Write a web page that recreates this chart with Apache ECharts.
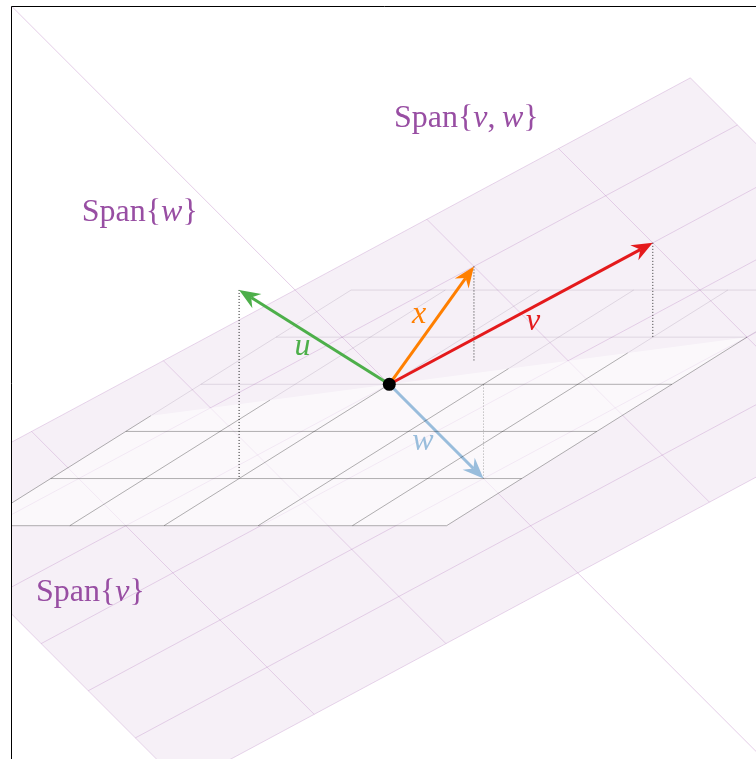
<!DOCTYPE html>
<html><head><meta charset="utf-8">
<script src="https://cdn.jsdelivr.net/npm/echarts@6/dist/echarts.min.js"></script>
<style>html,body{margin:0;padding:0;background:#fff}#main{width:756px;height:759px}</style>
</head><body><div id="main"></div>
<script>
// ---------------- data (3D coordinates) ----------------
const vectorNames = ['w', 'u', 'x', 'v'];
const vecU = [0, 2, 2];
const vecV = [2, -1, 1];
const vecW = [1, 0, -1];
const vecX = [0.5, -0.5, 1];
const planeS = [-1.5, -1, -0.5, 0, 0.5, 1, 1.5];   // grid lines: multiples of v
const planeT = [-1, -0.5, 0, 0.5, 1, 1.5, 2];      // grid lines: multiples of w
const groundX = [-2, -1, 0, 1, 2, 3];
const groundY = [-2, -1, 0, 1, 2, 3];
const spanLineRange = [-6, 6];
const spanLabels = ['Span{v,w}', 'Span{w}', 'Span{v}'];

// ---------------- camera / styles ----------------
const CAM = { ex: [94.2, 0], ey: [-75.1, -47.13], ez: [0, 94.3] };
const ORIGIN_PX = [389.3, 384.3];
const FRAME = { left: 11, top: 6, right: 0, bottom: 0, W: 756, H: 759 };
const COLORS = { u: '#4daf4a', x: '#ff7f00', v: '#e41a1c', w: '#99bddc', purple: '#984ea3' };
const LABEL_OFF = { u: [-11.7, 9], x: [-12.6, -10.6], v: [12, 8], w: [-13.4, 10.5] };
const SPAN_POS = [[394, 119], [81.7, 213], [36, 592.5]];
const FONT = '"Liberation Serif", "DejaVu Serif", serif';

// ---------------- helpers ----------------
const add = (p, q) => p.map((v, i) => v + q[i]);
const mul = (p, k) => p.map(v => v * k);
const dot = (p, q) => p[0] * q[0] + p[1] * q[1] + p[2] * q[2];
const cross = (p, q) => [p[1] * q[2] - p[2] * q[1], p[2] * q[0] - p[0] * q[2], p[0] * q[1] - p[1] * q[0]];
const proj = p => [p[0] * CAM.ex[0] + p[1] * CAM.ey[0] + p[2] * CAM.ez[0],
                   p[0] * CAM.ex[1] + p[1] * CAM.ey[1] + p[2] * CAM.ez[1]];
const lerp = (p, q, k) => p.map((v, i) => v + (q[i] - v) * k);
const normal = cross(vecV, vecW);            // normal of Span{v,w}
const side = p => dot(normal, p);            // >0 : ground above plane (in front)

function splitSeg(p, q) {
  const fp = side(p), fq = side(q);
  if (fp >= 0 && fq >= 0) return { front: [[p, q]], back: [] };
  if (fp <= 0 && fq <= 0) return { front: [], back: [[p, q]] };
  const m = lerp(p, q, fp / (fp - fq));
  return fp > 0 ? { front: [[p, m]], back: [[m, q]] } : { front: [[m, q]], back: [[p, m]] };
}
function clipPoly(poly) {
  const out = [];
  for (let i = 0; i < poly.length; i++) {
    const a = poly[i], b = poly[(i + 1) % poly.length];
    const fa = side(a), fb = side(b);
    if (fa >= 0) out.push(a);
    if ((fa > 0 && fb < 0) || (fa < 0 && fb > 0)) out.push(lerp(a, b, fa / (fa - fb)));
  }
  return out;
}

// ---------------- geometry built from data ----------------
const sMin = planeS[0], sMax = planeS[planeS.length - 1];
const tMin = planeT[0], tMax = planeT[planeT.length - 1];
const P = (s, t) => add(mul(vecV, s), mul(vecW, t));
const planePoly = [P(sMin, tMin), P(sMax, tMin), P(sMax, tMax), P(sMin, tMax)];
const planeLines = [];
planeS.forEach(s => planeLines.push([P(s, tMin), P(s, tMax)]));
planeT.forEach(t => planeLines.push([P(sMin, t), P(sMax, t)]));
// the parts of Span{w} and Span{v} that leave the plane
const spanLines = [
  [mul(vecW, spanLineRange[0]), mul(vecW, tMin)], [mul(vecW, tMax), mul(vecW, spanLineRange[1])],
  [mul(vecV, spanLineRange[0]), mul(vecV, sMin)], [mul(vecV, sMax), mul(vecV, spanLineRange[1])]
];

const gx0 = groundX[0], gx1 = groundX[groundX.length - 1];
const gy0 = groundY[0], gy1 = groundY[groundY.length - 1];
const groundFrontPoly = clipPoly([[gx0, gy0, 0], [gx1, gy0, 0], [gx1, gy1, 0], [gx0, gy1, 0]]);
const groundFront = [], groundBack = [];
groundY.forEach(y => { const r = splitSeg([gx0, y, 0], [gx1, y, 0]); groundFront.push(...r.front); groundBack.push(...r.back); });
groundX.forEach(x => { const r = splitSeg([x, gy0, 0], [x, gy1, 0]); groundFront.push(...r.front); groundBack.push(...r.back); });

const vecs = { u: vecU, v: vecV, w: vecW, x: vecX };
const dropLine = n => [vecs[n], [vecs[n][0], vecs[n][1], 0]];

// ---------------- series factories ----------------
const toSeg = s => { const a = proj(s[0]), b = proj(s[1]); return [a[0], a[1], b[0], b[1]]; };
function segSeries(segs, style, z) {
  return {
    type: 'custom', z, clip: true, silent: true,
    data: segs.map(toSeg), encode: { x: [0, 2], y: [1, 3] },
    renderItem: (params, api) => {
      const a = api.coord([api.value(0), api.value(1)]);
      const b = api.coord([api.value(2), api.value(3)]);
      return { type: 'line', shape: { x1: a[0], y1: a[1], x2: b[0], y2: b[1] },
               style: Object.assign({ fill: null }, style) };
    }
  };
}
function polySeries(poly, fill, z) {
  const pts = poly.map(proj);
  return {
    type: 'custom', z, clip: true, silent: true,
    data: [pts[0]], encode: { x: 0, y: 1 },
    renderItem: (params, api) => ({ type: 'polygon', shape: { points: pts.map(p => api.coord(p)) }, style: { fill } })
  };
}
function arrowSeries(names, z) {
  return {
    type: 'custom', z, clip: true, silent: true,
    data: names.map(n => { const e = proj(vecs[n]); return [0, 0, e[0], e[1]]; }),
    encode: { x: [0, 2], y: [1, 3] },
    renderItem: (params, api) => {
      const n = names[params.dataIndex], col = COLORS[n];
      const a = api.coord([api.value(0), api.value(1)]);
      const b = api.coord([api.value(2), api.value(3)]);
      const dx = b[0] - a[0], dy = b[1] - a[1], len = Math.hypot(dx, dy);
      const ux = dx / len, uy = dy / len, nx = -uy, ny = ux;
      const L = 21, W = 8.5, N = 0.68;
      const base = [b[0] - ux * L, b[1] - uy * L];
      const notch = [b[0] - ux * L * N, b[1] - uy * L * N];
      const mid = api.coord([api.value(2) / 2, api.value(3) / 2]);
      const off = LABEL_OFF[n];
      return { type: 'group', children: [
        { type: 'line', shape: { x1: a[0], y1: a[1], x2: notch[0], y2: notch[1] }, style: { stroke: col, lineWidth: 3 } },
        { type: 'polygon', shape: { points: [b, [base[0] + nx * W, base[1] + ny * W], notch, [base[0] - nx * W, base[1] - ny * W]] }, style: { fill: col } },
        { type: 'text', x: mid[0] + off[0], y: mid[1] + off[1],
          style: { text: n, fill: col, font: 'italic 32px ' + FONT, align: 'center', verticalAlign: 'middle' } }
      ] };
    }
  };
}

const series = [
  polySeries(planePoly, 'rgba(152,78,163,0.085)', 1),
  segSeries(groundBack, { stroke: 'rgba(130,110,140,0.2)', lineWidth: 1 }, 2),
  segSeries(planeLines, { stroke: 'rgba(165,90,175,0.24)', lineWidth: 1 }, 3),
  segSeries(spanLines, { stroke: 'rgba(165,90,175,0.3)', lineWidth: 1 }, 3),
  segSeries([dropLine('x'), dropLine('v')], { stroke: '#333', lineWidth: 1, lineDash: [1, 2] }, 4),
  polySeries(groundFrontPoly, 'rgba(255,255,255,0.55)', 5),
  segSeries([dropLine('w')], { stroke: '#a8a8a8', lineWidth: 1, lineDash: [1, 2] }, 6),
  arrowSeries(['w'], 6),
  segSeries(groundFront, { stroke: 'rgba(0,0,0,0.3)', lineWidth: 1 }, 7),
  segSeries([dropLine('u')], { stroke: '#222', lineWidth: 1, lineDash: [1, 2] }, 8),
  arrowSeries(['u', 'x', 'v'], 9),
  { type: 'scatter', z: 11, silent: true, data: [proj([0, 0, 0])], symbol: 'circle', symbolSize: 13,
    itemStyle: { color: '#000', opacity: 1 } }
];

const gw = FRAME.W - FRAME.left - FRAME.right, gh = FRAME.H - FRAME.top - FRAME.bottom;
const spanText = s => s.replace(/([vw])/g, '{i|$1}').replace(',', ',\u2009');
const chart = echarts.init(document.getElementById('main'), null, { renderer: 'canvas' });
chart.setOption({
  animation: false,
  backgroundColor: '#fff',
  grid: { left: FRAME.left, top: FRAME.top, right: FRAME.right, bottom: FRAME.bottom, show: false },
  xAxis: { type: 'value', min: FRAME.left - ORIGIN_PX[0], max: FRAME.left - ORIGIN_PX[0] + gw, show: false },
  yAxis: { type: 'value', min: ORIGIN_PX[1] - FRAME.top - gh, max: ORIGIN_PX[1] - FRAME.top, show: false },
  series,
  graphic: [
    { type: 'polyline', z: 30, silent: true,
      shape: { points: [[FRAME.left + 0.5, FRAME.H + 2], [FRAME.left + 0.5, FRAME.top + 0.5], [FRAME.W + 2, FRAME.top + 0.5]] },
      style: { stroke: '#000', lineWidth: 1, fill: null } }
  ].concat(spanLabels.map((s, i) => ({
    type: 'text', x: SPAN_POS[i][0], y: SPAN_POS[i][1], z: 20, silent: true,
    style: { text: spanText(s), fill: COLORS.purple, font: '32px ' + FONT, verticalAlign: 'middle',
             rich: { i: { fontStyle: 'italic', fontSize: 32, fontFamily: FONT, fill: COLORS.purple } } }
  })))
});
</script></body></html>
